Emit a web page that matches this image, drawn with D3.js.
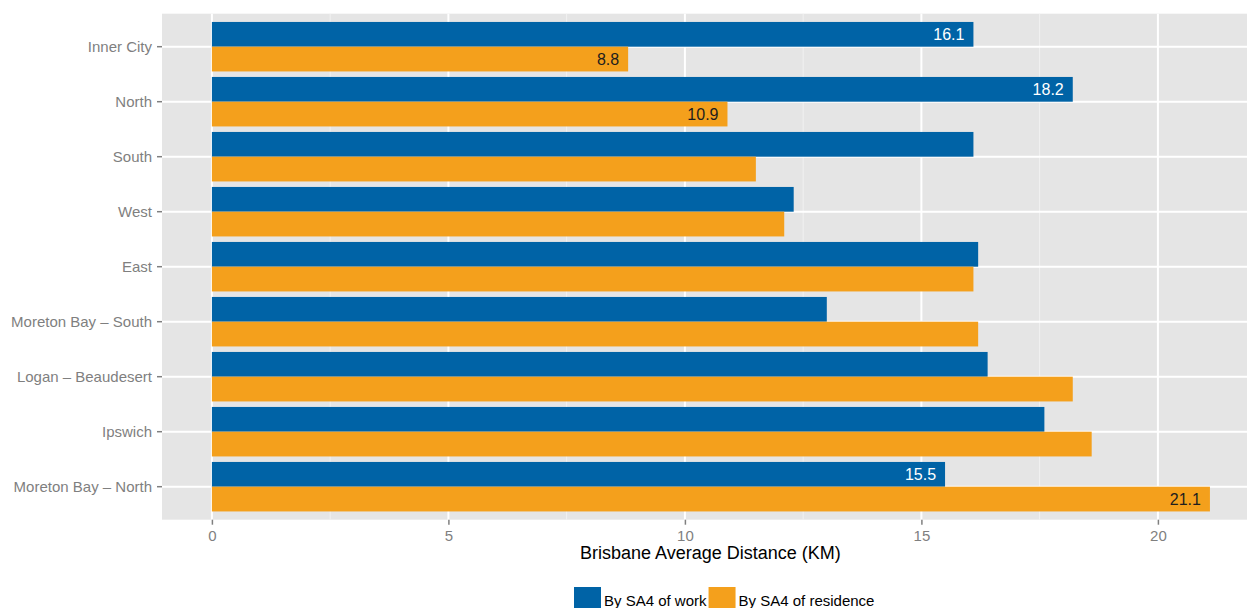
<!DOCTYPE html>
<html>
<head>
<meta charset="utf-8">
<script src="https://cdn.jsdelivr.net/npm/d3@7"></script>
<style>
  html, body { margin: 0; padding: 0; background: #fff; }
  svg { display: block; font-family: "Liberation Sans", Arial, Helvetica, sans-serif; }
</style>
</head>
<body>
<svg id="chart" width="1247" height="608"></svg>
<script>
// ---- data ----
const categories = ["Inner City", "North", "South", "West", "East",
  "Moreton Bay – South", "Logan – Beaudesert", "Ipswich", "Moreton Bay – North"];
const seriesNames = ["By SA4 of work", "By SA4 of residence"];
const workValues = [16.1, 18.2, 16.1, 12.3, 16.2, 13.0, 16.4, 17.6, 15.5];
const residenceValues = [8.8, 10.9, 11.5, 12.1, 16.1, 16.2, 18.2, 18.6, 21.1];
const labelledCategories = ["Inner City", "North", "Moreton Bay – North"];
const xTickValues = [0, 5, 10, 15, 20];
const xMinorValues = [2.5, 7.5, 12.5, 17.5, 22.5];
const xTitle = "Brisbane Average Distance (KM)";

// ---- layout ----
const colors = ["#0063a6", "#f4a01c"];
const labelColors = ["#ffffff", "#1e1e1e"];
const panel = { left: 162, top: 13.7, bottom: 519.7 };
const svg = d3.select("#chart");

const dataMax = d3.max(workValues.concat(residenceValues));
const expand = dataMax * 0.05;
const unit = 47.3;
const panelRight = panel.left + (dataMax + 2 * expand) * unit;

const x = d3.scaleLinear().domain([-expand, dataMax + expand]).range([panel.left, panelRight]);
const y = d3.scaleBand().domain(categories).range([panel.top, panel.bottom])
  .paddingInner(0.1).paddingOuter(0.15);
const ySub = d3.scaleBand().domain([0, 1]).range([0, y.bandwidth()]);

// panel background
svg.append("rect")
  .attr("x", panel.left).attr("y", panel.top)
  .attr("width", panelRight - panel.left).attr("height", panel.bottom - panel.top)
  .attr("fill", "#e5e5e5");

// minor grid
svg.append("g").selectAll("line").data(xMinorValues).join("line")
  .attr("x1", d => x(d)).attr("x2", d => x(d))
  .attr("y1", panel.top).attr("y2", panel.bottom)
  .attr("stroke", "#f2f2f2").attr("stroke-width", 1);

// major grid
svg.append("g").selectAll("line").data(xTickValues).join("line")
  .attr("x1", d => x(d)).attr("x2", d => x(d))
  .attr("y1", panel.top).attr("y2", panel.bottom)
  .attr("stroke", "#ffffff").attr("stroke-width", 2);
svg.append("g").selectAll("line").data(categories).join("line")
  .attr("x1", panel.left).attr("x2", panelRight)
  .attr("y1", d => y(d) + y.bandwidth() / 2).attr("y2", d => y(d) + y.bandwidth() / 2)
  .attr("stroke", "#ffffff").attr("stroke-width", 2);

// bars
const rows = [];
categories.forEach((c, i) => {
  rows.push({ cat: c, s: 0, v: workValues[i] });
  rows.push({ cat: c, s: 1, v: residenceValues[i] });
});
svg.append("g").selectAll("rect").data(rows).join("rect")
  .attr("x", x(0))
  .attr("y", d => y(d.cat) + ySub(d.s))
  .attr("width", d => x(d.v) - x(0))
  .attr("height", ySub.bandwidth())
  .attr("fill", d => colors[d.s]);

// value labels
const fmt = d3.format(".1f");
svg.append("g").selectAll("text")
  .data(rows.filter(d => labelledCategories.includes(d.cat))).join("text")
  .attr("x", d => x(d.v) - 9)
  .attr("y", d => y(d.cat) + ySub(d.s) + ySub.bandwidth() / 2)
  .attr("dy", "0.36em")
  .attr("text-anchor", "end")
  .attr("font-size", 16)
  .attr("fill", d => labelColors[d.s])
  .text(d => fmt(d.v));

// y axis
const yAxis = svg.append("g")
  .attr("transform", `translate(${panel.left},0)`)
  .call(d3.axisLeft(y).tickSize(5).tickPadding(5));
yAxis.select(".domain").remove();
yAxis.selectAll(".tick line").attr("stroke", "#7f7f7f").attr("stroke-width", 1.5);
yAxis.selectAll(".tick text").attr("fill", "#7f7f7f").attr("font-size", 15)
  .attr("font-family", "Liberation Sans, Arial, sans-serif");

// x axis
const xAxis = svg.append("g")
  .attr("transform", `translate(0,${panel.bottom})`)
  .call(d3.axisBottom(x).tickValues(xTickValues).tickFormat(d3.format("d")).tickSize(5).tickPadding(6));
xAxis.select(".domain").remove();
xAxis.selectAll(".tick line").attr("stroke", "#7f7f7f").attr("stroke-width", 1.5);
xAxis.selectAll(".tick text").attr("fill", "#7f7f7f").attr("font-size", 15)
  .attr("font-family", "Liberation Sans, Arial, sans-serif");

// x title
svg.append("text")
  .attr("x", (panel.left + panelRight) / 2 - 0.5)
  .attr("y", 559)
  .attr("text-anchor", "middle")
  .attr("font-size", 18)
  .attr("fill", "#000")
  .text(xTitle);

// legend
const legend = svg.append("g");
let lx = 574;
const keyW = 27, keyH = 27, keyY = 587;
seriesNames.forEach((name, i) => {
  legend.append("rect").attr("x", lx).attr("y", keyY).attr("width", keyW).attr("height", keyH)
    .attr("fill", colors[i]);
  const t = legend.append("text").attr("x", lx + keyW + 3).attr("y", keyY + 13.5)
    .attr("dy", "0.36em").attr("font-size", 15).attr("fill", "#000").text(name);
  lx += keyW + 3 + t.node().getComputedTextLength() + 2;
});
</script>
</body>
</html>
